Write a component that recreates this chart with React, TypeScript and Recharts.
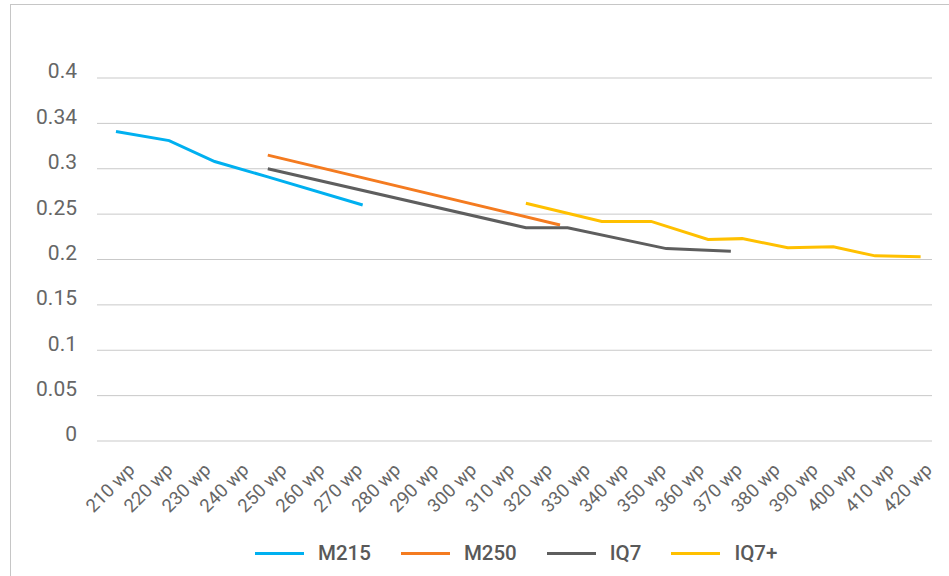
import React from 'react';
import { LineChart, Line, XAxis, YAxis, CartesianGrid, Legend } from 'recharts';

const xTicks = [210, 220, 230, 240, 250, 260, 270, 280, 290, 300, 310, 320, 330, 340, 350, 360, 370, 380, 390, 400, 410, 420];
const xLabels = ['210 wp', '220 wp', '230 wp', '240 wp', '250 wp', '260 wp', '270 wp', '280 wp', '290 wp', '300 wp', '310 wp', '320 wp', '330 wp', '340 wp', '350 wp', '360 wp', '370 wp', '380 wp', '390 wp', '400 wp', '410 wp', '420 wp'];
const yTicks = [0, 0.05, 0.1, 0.15, 0.2, 0.25, 0.3, 0.35, 0.4];
const yLabels = ['0', '0.05', '0.1', '0.15', '0.2', '0.25', '0.3', '0.34', '0.4'];

const m215 = [
  { wp: 210, v: 0.341 },
  { wp: 224, v: 0.331 },
  { wp: 236, v: 0.308 },
  { wp: 250, v: 0.291 },
  { wp: 275, v: 0.26 },
];
const m250 = [
  { wp: 250, v: 0.315 },
  { wp: 327, v: 0.238 },
];
const iq7 = [
  { wp: 250, v: 0.3 },
  { wp: 318, v: 0.235 },
  { wp: 329, v: 0.235 },
  { wp: 355, v: 0.212 },
  { wp: 372, v: 0.209 },
];
const iq7plus = [
  { wp: 318, v: 0.262 },
  { wp: 338, v: 0.242 },
  { wp: 351, v: 0.242 },
  { wp: 366, v: 0.222 },
  { wp: 375, v: 0.223 },
  { wp: 387, v: 0.213 },
  { wp: 399, v: 0.214 },
  { wp: 410, v: 0.204 },
  { wp: 422, v: 0.203 },
];

const seriesList = [
  { name: 'M215', data: m215, color: '#00b0f0' },
  { name: 'M250', data: m250, color: '#f47b20' },
  { name: 'IQ7', data: iq7, color: '#5e5e5e' },
  { name: 'IQ7+', data: iq7plus, color: '#ffc000' },
];

const FONT = 'Roboto, "Noto Sans", sans-serif';

const XTick = (props: any) => {
  const { x, y, payload, index } = props;
  const label = xLabels[xTicks.indexOf(payload.value)] ?? xLabels[index];
  const ax = x + 20;
  const ay = y + 22;
  return (
    <text
      x={ax}
      y={ay}
      textAnchor="end"
      transform={`rotate(-45 ${ax} ${ay})`}
      fill="#666666"
      fontSize={18.5}
      fontFamily={FONT}
    >
      {label}
    </text>
  );
};

const YTick = (props: any) => {
  const { x, y, payload, index } = props;
  const i = yTicks.indexOf(payload.value);
  const label = yLabels[i >= 0 ? i : index];
  return (
    <text
      x={x - 12}
      y={y - 7}
      dy="0.355em"
      textAnchor="end"
      fill="#666666"
      fontSize={21}
      fontFamily={FONT}
    >
      {label}
    </text>
  );
};

const LegendContent = () => (
  <div
    style={{
      display: 'flex',
      alignItems: 'center',
      height: 50,
      paddingTop: 4,
      boxSizing: 'border-box',
      paddingLeft: 255,
      fontFamily: FONT,
    }}
  >
    {seriesList.map((s) => (
      <div key={s.name} style={{ display: 'flex', alignItems: 'center', marginRight: 30 }}>
        <div style={{ width: 49, height: 3, background: s.color, marginRight: 14 }} />
        <span style={{ fontSize: 20.5, fontWeight: 500, color: '#595959' }}>{s.name}</span>
      </div>
    ))}
  </div>
);

export default function App() {
  return (
    <div style={{ position: 'absolute', left: 0, top: 0, width: 949, height: 576, overflow: 'hidden', background: '#fff' }}>
      <div
        style={{
          position: 'absolute',
          left: 10,
          top: 4,
          width: 960,
          height: 600,
          border: '1px solid #c6c6c6',
          boxSizing: 'border-box',
        }}
      />
      <div style={{ position: 'absolute', left: 0, top: 0 }}>
        <LineChart width={949} height={576} margin={{ top: 78, right: 17, left: 0, bottom: 0 }}>
          <CartesianGrid vertical={false} stroke="#c9c9c9" strokeWidth={1} />
          <XAxis
            dataKey="wp"
            type="number"
            domain={[205, 425]}
            ticks={xTicks}
            interval={0}
            axisLine={false}
            tickLine={false}
            height={85}
            tick={<XTick />}
            allowDataOverflow
          />
          <YAxis
            type="number"
            domain={[0, 0.4]}
            ticks={yTicks}
            interval={0}
            axisLine={false}
            tickLine={false}
            width={97}
            tick={<YTick />}
          />
          <Legend
            verticalAlign="bottom"
            content={<LegendContent />}
            wrapperStyle={{ left: 0, bottom: 0, width: 949, height: 50 }}
          />
          {seriesList.map((s) => (
            <Line
              key={s.name}
              data={s.data}
              dataKey="v"
              name={s.name}
              type="linear"
              stroke={s.color}
              strokeWidth={3}
              dot={false}
              activeDot={false}
              isAnimationActive={false}
            />
          ))}
        </LineChart>
      </div>
    </div>
  );
}
